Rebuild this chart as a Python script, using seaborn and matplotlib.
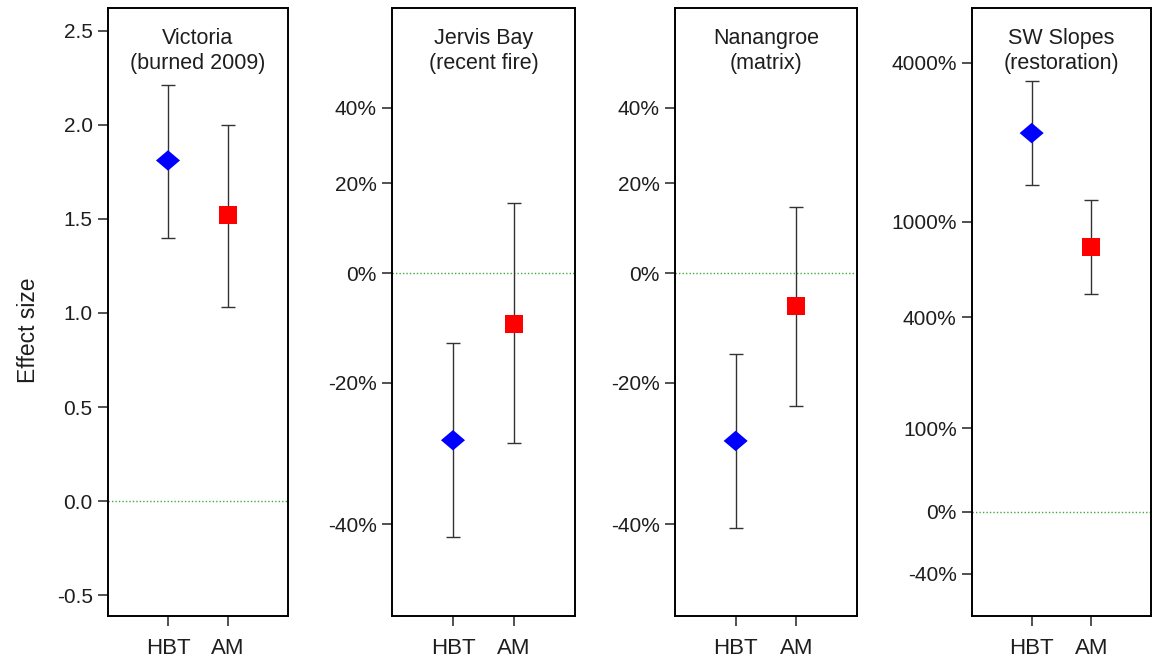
import numpy as np
import pandas as pd
import matplotlib
matplotlib.use('Agg')
import matplotlib.pyplot as plt
import seaborn as sns

# 数据：每个地点的 HBT / AM 估计值与置信区间
methods = ['HBT', 'AM']
titles = ['Victoria\n(burned 2009)', 'Jervis Bay\n(recent fire)',
          'Nanangroe\n(matrix)', 'SW Slopes\n(restoration)']

# 第1面板：原始效应量
vic_est = [1.81, 1.52]
vic_lo = [1.40, 1.03]
vic_hi = [2.21, 2.00]

# 第2-4面板：百分比变化（按对数比例绘制）
jervis_est = [-28.8, -9.8]
jervis_lo = [-41.5, -29.2]
jervis_hi = [-13.3, 15.3]

nan_est = [-28.9, -6.5]
nan_lo = [-40.4, -23.7]
nan_hi = [-15.2, 14.4]

sw_est = [2190, 794]
sw_lo = [1390, 506]
sw_hi = [3420, 1218]

vic_ticks = [-0.5, 0.0, 0.5, 1.0, 1.5, 2.0, 2.5]
pct_ticks = [-40, -20, 0, 20, 40]
sw_ticks = [-40, 0, 100, 400, 1000, 4000]


def to_log(p):
    # 百分比 -> log(1 + p)
    return np.log1p(np.asarray(p, dtype=float) / 100.0)


sns.set_theme(style='ticks')
plt.rcParams['font.family'] = ['Liberation Sans', 'DejaVu Sans']
plt.rcParams['axes.unicode_minus'] = False

W, H = 1153, 664
fig = plt.figure(figsize=(W / 100, H / 100), dpi=100)

# 面板位置（像素）
frames = [(108, 288), (392, 575), (675, 857), (972, 1151)]
top, bottom = 8, 616

diamond = [(-1, 0), (0, 0.85), (1, 0), (0, -0.85), (-1, 0)]
colors = {'HBT': '#0000ff', 'AM': '#ff0000'}
marks = {'HBT': diamond, 'AM': 's'}
txt = '#1e1e1e'


def draw(ax, est, lo, hi, title):
    df = pd.DataFrame({'method': methods,
                       'x': np.arange(len(methods)) + 1,
                       'est': est, 'lo': lo, 'hi': hi})
    ax.axhline(0, color='#3fa93f', ls=(0, (1, 1.5)), lw=1.0, zorder=1)
    ax.errorbar(df['x'], df['est'],
                yerr=[df['est'] - df['lo'], df['hi'] - df['est']],
                fmt='none', ecolor='#333333', elinewidth=1.0,
                capsize=5, capthick=1.0, zorder=2)
    for m, sz in zip(methods, [300, 170]):
        sns.scatterplot(data=df[df['method'] == m], x='x', y='est',
                        color=colors[m], marker=marks[m], s=sz,
                        edgecolor='none', linewidth=0, legend=False,
                        ax=ax, zorder=3)
    ax.set_xlim(0, 3)
    ax.set_xticks(df['x'])
    ax.set_xticklabels(methods)
    ax.set_xlabel('')
    ax.set_ylabel('')
    ax.text(0.5, 0.967, title, transform=ax.transAxes, ha='center', va='top',
            fontsize=15.5, color=txt, linespacing=1.22)
    for s in ax.spines.values():
        s.set_visible(True)
        s.set_linewidth(1.4)
        s.set_color('black')
    ax.tick_params(axis='both', length=7, width=1.1, color='#222222',
                   labelsize=15, labelcolor=txt, pad=4)
    ax.tick_params(axis='x', labelsize=16, pad=9)


axes = []
for (x0, x1) in frames:
    ax = fig.add_axes([x0 / W, (H - bottom) / H, (x1 - x0) / W, (bottom - top) / H])
    axes.append(ax)

# 第1面板
draw(axes[0], vic_est, vic_lo, vic_hi, titles[0])
axes[0].set_ylim(-0.61, 2.62)
axes[0].set_yticks(vic_ticks)
axes[0].set_yticklabels(['%.1f' % t for t in vic_ticks])
axes[0].set_ylabel('Effect size', fontsize=16.5, color=txt)
axes[0].yaxis.set_label_coords(-0.38, 0.47)

# 第2、3面板
for ax, est, lo, hi, t in [(axes[1], jervis_est, jervis_lo, jervis_hi, titles[1]),
                           (axes[2], nan_est, nan_lo, nan_hi, titles[2])]:
    draw(ax, to_log(est), to_log(lo), to_log(hi), t)
    ax.set_ylim(-0.697, 0.539)
    ax.set_yticks(to_log(pct_ticks))
    ax.set_yticklabels(['%d%%' % t for t in pct_ticks])

# 第4面板
draw(axes[3], to_log(sw_est), to_log(sw_lo), to_log(sw_hi), titles[3])
axes[3].set_ylim(-0.86, 4.165)
axes[3].set_yticks(to_log(sw_ticks))
axes[3].set_yticklabels(['%d%%' % t for t in sw_ticks])

fig.savefig('out.png', dpi=100, facecolor='white')
